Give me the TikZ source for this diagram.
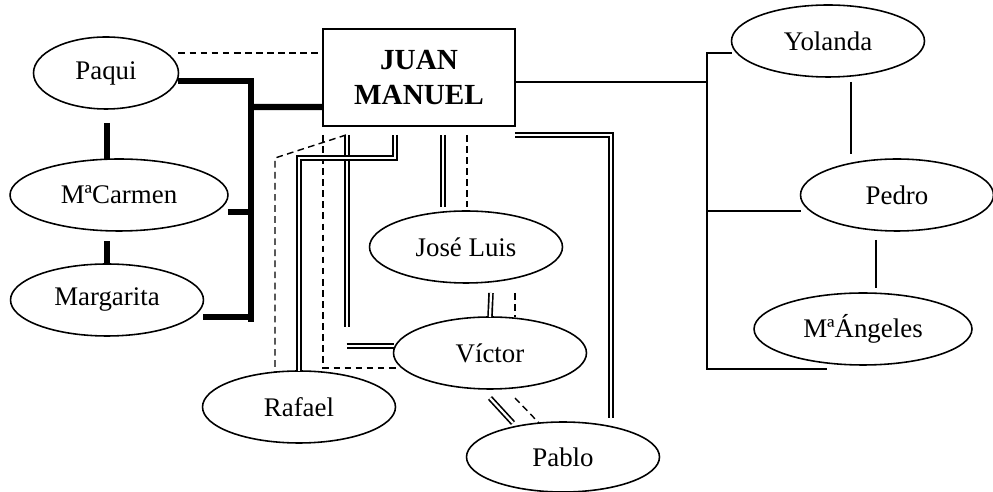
\documentclass[tikz,border=0pt]{standalone}
\usepackage{fontspec}
\setmainfont{Liberation Serif}
\usetikzlibrary{shapes.geometric,calc}

\begin{document}
\begin{tikzpicture}[x=0.02cm, y=-0.02cm,
  every node/.style={font=\fontsize{15.3}{17}\selectfont, outer sep=0pt},
  persona/.style={draw, ellipse, line width=0.9pt, minimum width=3.86cm, minimum height=1.44cm, inner sep=0pt},
  gruesa/.style={line width=3.6pt},
  fina/.style={line width=1.1pt},
  doble/.style={double, line width=0.95pt, double distance=1.25pt},
  rayas/.style={line width=0.8pt, dash pattern=on 3.8pt off 2.5pt}]
\useasboundingbox (0,0) rectangle (993,492);

\node[draw, line width=1.1pt, minimum width=3.84cm, minimum height=1.94cm, align=center, font=\fontsize{16.6}{19.4}\selectfont\bfseries] (juan) at (419,77.5) {JUAN\\MANUEL};

\node[persona, minimum width=2.9cm] (paqui) at (106,73) {Paqui};
\node[persona, minimum width=4.36cm] (carmen) at (119,195) {MªCarmen};
\node[persona] (margarita) at (107,300) {Margarita};

\node[persona] (yolanda) at (828,41) {Yolanda};
\node[persona] (pedro) at (897,195) {Pedro};
\node[persona, minimum width=4.36cm] (angeles) at (863,329) {MªÁngeles};

\node[persona] (joseluis) at (466,247) {José Luis};
\node[persona] (victor) at (490,353) {Víctor};
\node[persona] (rafael) at (299,407) {Rafael};
\node[persona, minimum height=1.4cm] (pablo) at (563,457) {Pablo};

% hermanas
\draw[rayas] ($(paqui.east)+(0,-20)$) -- ($(juan.west)+(0,-24.5)$);
\draw[gruesa] ($(paqui.east)+(0,8)$) -| (251,322);
\draw[gruesa] ($(juan.west)+(0,29.5)$) -- (251,107);
\draw[gruesa] ($(carmen.east)+(0,17)$) -- (251,212);
\draw[gruesa] ($(margarita.east)+(0,17)$) -- (251,317);
\draw[gruesa] ($(paqui.south)+(1,14)$) -- ($(margarita.north)+(0,-104)$);
\draw[gruesa] ($(margarita.north)+(0,-23)$) -- (margarita.north);

% hijos
\coordinate (hijos) at (707,82);
\draw[fina] ($(juan.east)+(0,4.5)$) -- (hijos);
\draw[fina] ($(yolanda.west)+(0,12)$) -| (hijos |- 0,369) -- ++(120,0);
\draw[fina] ($(pedro.west)+(0,16)$) -- (hijos |- 0,211);
\draw[fina] ($(yolanda.south)+(23,5)$) -- ($(pedro.north)+(-46,-5)$);
\draw[fina] ($(pedro.south)+(-21,9)$) -- ($(angeles.north)+(13,-5)$);

% hermanos
\draw[doble] ($(juan.south east)+(0,9)$) -| ($(pablo.north)+(48,-4)$);
\draw[doble] ($(juan.south)+(24,9)$) -- ($(joseluis.north)+(-23,-4)$);
\draw[rayas] ($(juan.south)+(48,9)$) -- ($(joseluis.north)+(1,-4)$);
\draw[doble] ($(joseluis.south)+(25,10)$) -- (victor.north);
\draw[rayas] ($(joseluis.south)+(49,10)$) -- ($(victor.north)+(25,0)$);
\draw[doble] ($(victor.south)+(0,9)$) -- ($(pablo.north)+(-50,1)$);
\draw[rayas] ($(victor.south)+(25,9)$) -- ($(pablo.north)+(-24,1)$);

\draw[rayas] ($(juan.south west)+(0,9)$) |- ($(victor.west)+(6,15)$);
\draw[rayas] ($(juan.south west)+(23,9)$) -- ($(juan.south west)+(-48,32)$) -- ($(rafael.north)+(-24,1)$);
\draw[doble] ($(juan.south west)+(24,9)$) -- ++(0,192);
\draw[doble] ($(victor.west)+(-47,-7)$) -- ($(victor.west)+(0,-7)$);
\draw[doble] ($(juan.south west)+(72,9)$) -- ++(0,23) -| (rafael.north);
\end{tikzpicture}
\end{document}
